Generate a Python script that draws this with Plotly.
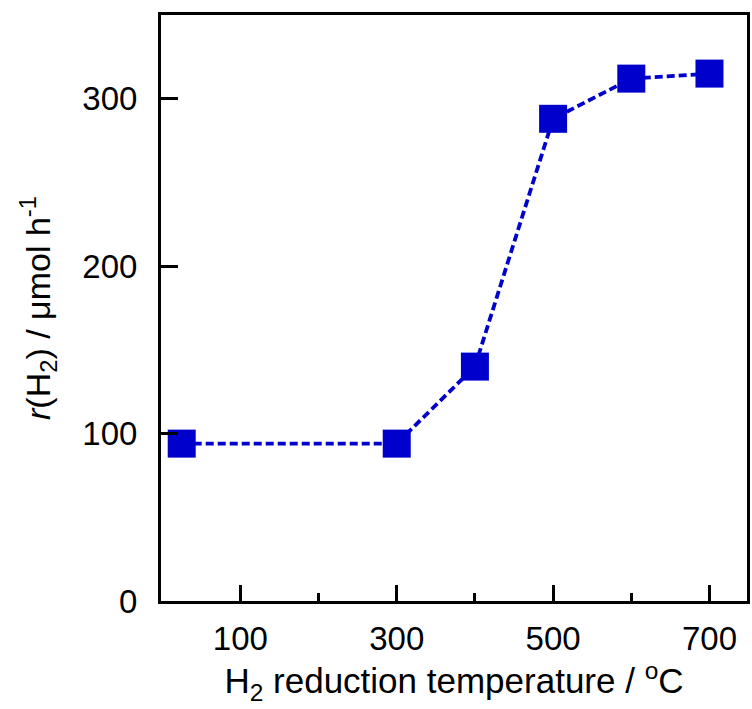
import plotly.graph_objects as go

# H2 reduction temperature (°C) and H2 evolution rate (µmol/h)
temperature = [25, 300, 400, 500, 600, 700]
rate_h2 = [94, 94, 140, 288, 312, 315]

x_major_ticks = [100, 300, 500, 700]
x_tick_text = ["100", "300", "500", "700"]
x_minor_ticks = [200, 400, 600]
y_major_ticks = [0, 100, 200, 300]
y_tick_text = ["0", "100", "200", "300"]

blue = "#0000CC"
font_family = "Liberation Sans, Arial, sans-serif"

fig = go.Figure(
    go.Scatter(
        x=temperature,
        y=rate_h2,
        mode="lines+markers",
        line=dict(color=blue, width=3.8, dash="8px,4px"),
        marker=dict(symbol="square", size=28, color=blue),
        showlegend=False,
    )
)

axis_common = dict(
    showline=True,
    linecolor="black",
    linewidth=3,
    mirror=True,
    ticks="inside",
    tickwidth=3,
    tickcolor="black",
    showgrid=False,
    zeroline=False,
    tickfont=dict(family=font_family, size=33, color="black"),
)

fig.update_xaxes(
    range=[-1.5, 748],
    tickmode="array",
    tickvals=x_major_ticks,
    ticktext=x_tick_text,
    ticklen=16,
    ticklabelstandoff=6,
    minor=dict(tickmode="array", tickvals=x_minor_ticks, ticks="inside",
               ticklen=8, tickwidth=3, tickcolor="black"),
    title=dict(text="H<sub>2</sub> reduction temperature / <sup>o</sup>C",
               font=dict(family=font_family, size=35, color="black"),
               standoff=8),
    **axis_common,
)

fig.update_yaxes(
    range=[0, 350],
    tickmode="array",
    tickvals=y_major_ticks,
    ticktext=y_tick_text,
    ticklen=17,
    ticklabelstandoff=14,
    title=dict(text="<i>r</i>(H<sub>2</sub>) / \u03bcmol h<sup>-1</sup>",
               font=dict(family=font_family, size=34, color="black"),
               standoff=22),
    **axis_common,
)

fig.update_layout(
    width=752,
    height=709,
    margin=dict(l=161, r=2, t=15, b=108),
    plot_bgcolor="white",
    paper_bgcolor="white",
)

fig.write_html("out.html")
